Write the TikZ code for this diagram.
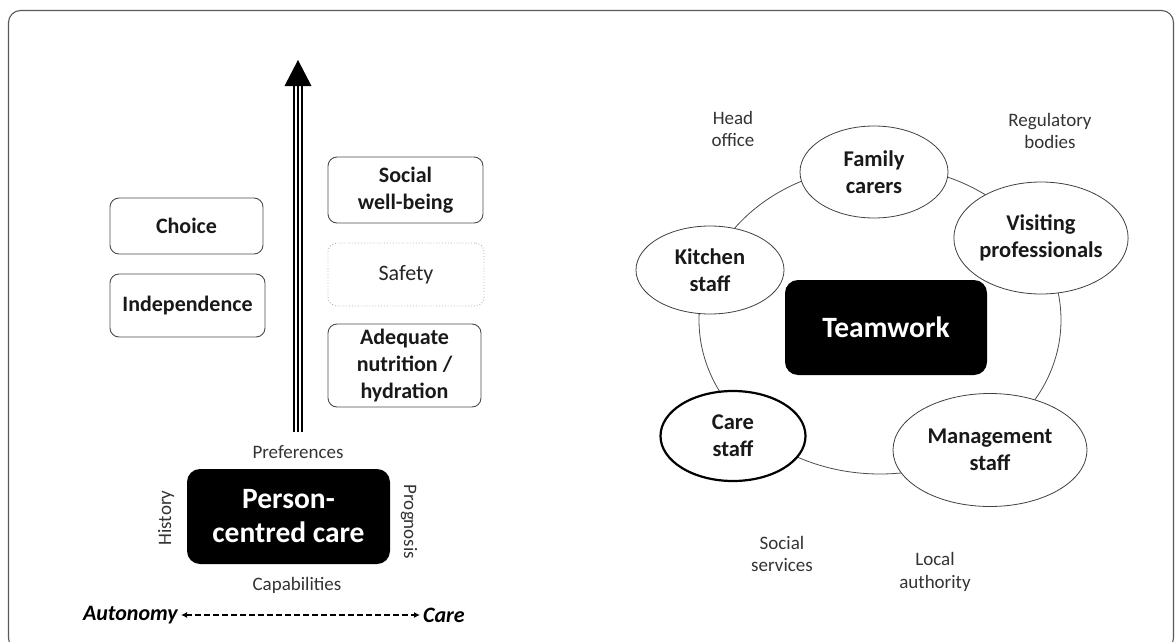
\documentclass[tikz,border=0pt]{standalone}
\usepackage{fontspec}
\setmainfont{Carlito}
\usetikzlibrary{arrows.meta,shapes.geometric}
\begin{document}
\begin{tikzpicture}[x=1pt,y=-1pt,
  framebox/.style={draw=black!65, line width=1.1pt, rounded corners=12pt},
  valuebox/.style={draw=black!70, line width=0.9pt, rounded corners=9pt, inner sep=0pt,
    align=center, font=\fontsize{22}{27}\selectfont\bfseries, text=black!90},
  softbox/.style={draw=black!30, dotted, line width=0.9pt, rounded corners=9pt, inner sep=0pt,
    align=center, font=\fontsize{22}{27}\selectfont, text=black!85},
  corebox/.style={fill=black, rounded corners=13pt, inner sep=0pt, align=center,
    text=white, font=\fontsize{29.5}{34}\selectfont\bfseries},
  member/.style={ellipse, draw=black!75, line width=0.8pt, fill=white, inner sep=0pt,
    align=center, font=\fontsize{22.5}{27}\selectfont\bfseries, text=black!90},
  sidelabel/.style={align=center, inner sep=0pt, text=black!80,
    font=\fontsize{19}{22.5}\selectfont},
  axislabel/.style={inner sep=0pt, font=\fontsize{22}{26}\selectfont\bfseries\itshape}]

\useasboundingbox (0,0) rectangle (1175,642);
\draw[framebox] (8.5,10.5) rectangle (1173.5,650);

% ---------- left panel ----------
\node[valuebox, minimum width=153pt, minimum height=56pt] (choice) at (186.5,226) {Choice};
\node[valuebox, minimum width=155pt, minimum height=63pt] (indep) at (187.5,305.5) {Independence};
\node[valuebox, minimum width=155pt, minimum height=66pt] (social) at (405.5,190) {Social\\well-being};
\node[softbox, minimum width=156pt, minimum height=63pt] (safety) at (406,274.5) {Safety};
\node[valuebox, minimum width=153pt, minimum height=83pt] (nutrition) at (404.5,365.5) {Adequate\\nutrition /\\hydration};

% rising arrow: triple-line shaft with a solid head
\coordinate (shaftbot) at (298,432);
\coordinate (shafttop) at (298,86);
\coordinate (tip) at (298,60);
\draw[line width=1.9pt] ([xshift=-4.3pt]shaftbot) -- ([xshift=-4.3pt]shafttop);
\draw[line width=1.9pt] ([xshift=4.3pt]shaftbot) -- ([xshift=4.3pt]shafttop);
\draw[line width=1.1pt] (shaftbot) -- (shafttop);
\fill ([xshift=-13.5pt]shafttop) -- ([xshift=13.5pt]shafttop) -- (tip) -- cycle;

\node[corebox, minimum width=203pt, minimum height=95pt] (pcc) at (288.5,516.5) {Person-\\centred care};
\node[sidelabel] (pref) at (298,452) {Preferences};
\node[sidelabel] (capab) at (297,585) {Capabilities};
\node[sidelabel, rotate=90] (history) at (166,518) {History};
\node[sidelabel, rotate=-90] (prognosis) at (409,522) {Prognosis};

\node[axislabel, anchor=east] (autonomy) at (178,615) {Autonomy};
\node[axislabel, anchor=west] (care) at (423,615) {Care};
\draw[line width=1.3pt, dash pattern=on 6pt off 3pt,
  {Latex[length=6pt,width=6pt]}-{Latex[length=6pt,width=6pt]}]
  ([xshift=3pt]autonomy.east) -- ([xshift=-3pt]care.west);

% ---------- right panel ----------
\node[ellipse, draw=black!70, line width=0.8pt, inner sep=0pt,
  minimum width=362pt, minimum height=308pt] (ring) at (880,320) {};

\node[member, minimum width=148pt, minimum height=92pt] (family) at (874,172) {Family\\carers};
\node[member, minimum width=156pt, minimum height=112pt] (visiting) at (1041,238) {Visiting\\professionals};
\node[member, minimum width=148pt, minimum height=88pt] (kitchen) at (710,270) {Kitchen\\staff};
\node[member, draw=black, line width=2.2pt, minimum width=145pt, minimum height=90pt] (carestaff) at (733,436) {Care\\staff};
\node[member, minimum width=194pt, minimum height=113pt] (mgmt) at (990,450) {Management\\staff};

\node[corebox, minimum width=202pt, minimum height=95pt] (teamwork) at (886,327.5) {Teamwork};

\node[sidelabel] (head) at (733,129) {Head\\office};
\node[sidelabel] (regul) at (1050,131) {Regulatory\\bodies};
\node[sidelabel] (socserv) at (782,554) {Social\\services};
\node[sidelabel] (localauth) at (935,572) {Local\\authority};

\end{tikzpicture}
\end{document}
